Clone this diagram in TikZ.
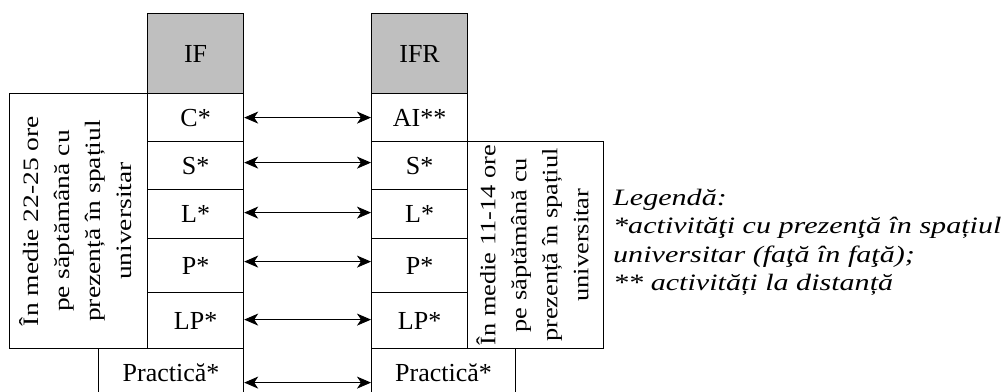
\documentclass[tikz,border=0pt]{standalone}
\usepackage{graphicx}
\usepackage{fontspec}
\setmainfont{Liberation Serif}
\usetikzlibrary{arrows.meta}
\definecolor{hdrgray}{RGB}{191,191,191}
\newcommand{\myvtext}[2]{\rotatebox{90}{\scalebox{#1}[1]{\fontsize{22}{31}\selectfont\begin{tabular}{@{}c@{}}#2\end{tabular}}}}
\tikzset{
  cell/.style={draw, line width=1.2pt, minimum width=96pt, inner sep=0pt, anchor=north west, font=\fontsize{26}{31}\selectfont},
  hdr/.style={cell, fill=hdrgray, minimum height=80pt},
  bigbox/.style={draw, line width=1.2pt, inner sep=0pt, anchor=north west},
  biarrow/.style={{Stealth[length=14pt,width=12pt,inset=4pt]}-{Stealth[length=14pt,width=12pt,inset=4pt]}, line width=0.9pt}
}
\begin{document}
\begin{tikzpicture}[x=1pt,y=-1pt]
\useasboundingbox (0,0) rectangle (1006,391);
\clip (0,0) rectangle (1006,391);
% side boxes with vertical text
\node[bigbox, minimum width=138pt, minimum height=255pt] (leftbox) at (9,93)
  {\myvtext{1.25}{În medie 22-25 ore\\ pe săptămână cu\\ prezență în spațiul\\ universitar}};
\node[bigbox, minimum width=136pt, minimum height=207pt] (rightbox) at (467,141)
  {\myvtext{1.2}{În medie 11-14 ore\\ pe săptămână cu\\ prezență în spațiul\\ universitar}};
% IF column
\node[hdr] (if) at (147,13) {IF};
\node[cell, minimum height=48pt] (c) at (147,93) {C*};
\node[cell, minimum height=48pt] (s) at (147,141) {S*};
\node[cell, minimum height=49pt] (l) at (147,189) {L*};
\node[cell, minimum height=54pt] (p) at (147,238) {P*};
\node[cell, minimum height=56pt] (lp) at (147,292) {LP*};
\node[cell, minimum width=145pt, minimum height=48pt] (pr) at (98,348) {Practică*};
% IFR column
\node[hdr] (ifr) at (371,13) {IFR};
\node[cell, minimum height=48pt] (ai) at (371,93) {AI**};
\node[cell, minimum height=48pt] (s2) at (371,141) {S*};
\node[cell, minimum height=49pt] (l2) at (371,189) {L*};
\node[cell, minimum height=54pt] (p2) at (371,238) {P*};
\node[cell, minimum height=56pt] (lp2) at (371,292) {LP*};
\node[cell, minimum width=144pt, minimum height=48pt] (pr2) at (371,348) {Practică*};
% arrows
\draw[biarrow] (c.east) -- (ai.west);
\draw[biarrow] ([yshift=3pt]s.east) -- ([yshift=3pt]s2.west);
\draw[biarrow] ([yshift=1.5pt]l.east) -- ([yshift=1.5pt]l2.west);
\draw[biarrow] ([yshift=4pt]p.east) -- ([yshift=4pt]p2.west);
\draw[biarrow] ([yshift=1pt]lp.east) -- ([yshift=1pt]lp2.west);
\draw[biarrow] ([yshift=-10pt]pr.east) -- ([yshift=-10pt]pr2.west);
% legend
\node[anchor=base west, inner sep=0pt] (legend) at (613,205)
  {\scalebox{1.28}[1]{\fontsize{23.5}{28.5}\selectfont\itshape\begin{tabular}[t]{@{}l@{}}Legendă:\\{}*activităţi cu prezenţă în spațiul\\{}universitar (faţă în faţă);\\{}** activități la distanță\end{tabular}}};
\end{tikzpicture}
\end{document}
